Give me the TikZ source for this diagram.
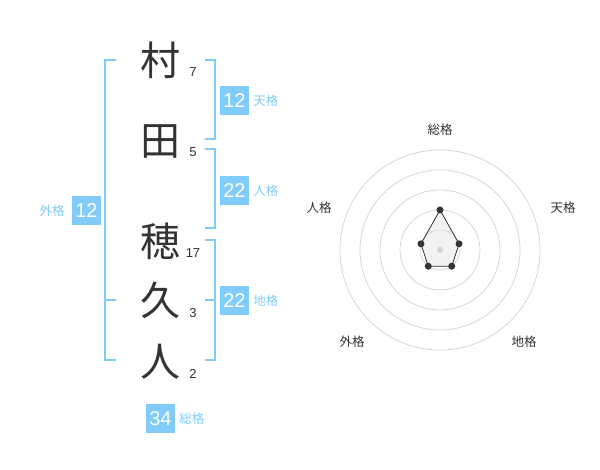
\documentclass[tikz,border=0pt]{standalone}
\usepackage{fontspec}
\setmainfont{Liberation Sans}
\newfontfamily\jpfont{Noto Sans CJK JP}
\usepackage{xcolor}
\usetikzlibrary{positioning}
\definecolor{kakublue}{RGB}{129, 204, 250}
\definecolor{inkgray}{RGB}{51, 51, 51}
\definecolor{ringgray}{RGB}{210, 210, 210}

\begin{document}
\begin{tikzpicture}[
    x=1pt, y=1pt,
    kanji/.style={font=\jpfont\fontsize{40}{40}\selectfont, text=inkgray, inner sep=0pt},
    strokes/.style={font=\fontsize{13}{13}\selectfont, text=inkgray, inner sep=0pt},
    kakubox/.style={rectangle, fill=kakublue, minimum width=29pt, minimum height=29pt, inner sep=0pt, text=white, font=\fontsize{20}{20}\selectfont},
    kakulabel/.style={font=\jpfont\fontsize{12.5}{12.5}\selectfont, text=kakublue, inner sep=0pt},
    bracket/.style={draw=kakublue, line width=2pt},
    ring/.style={draw=ringgray, line width=0.7pt},
    axislabel/.style={font=\jpfont\fontsize{12.5}{12.5}\selectfont, text=inkgray, inner sep=0pt},
    web/.style={draw=inkgray, line width=0.8pt, fill=gray!20, fill opacity=0.5},
    dot/.style={circle, fill=inkgray, inner sep=0pt, minimum size=7pt}
]
\useasboundingbox (0,0) rectangle (600,470);

% Name
\node[kanji] (mura) at (160,410) {村};
\node[kanji] (ta) at (160,328) {田};
\node[kanji] (ho) at (160,229) {穂};
\node[kanji] (hisa) at (160,170) {久};
\node[kanji] (hito) at (160,108) {人};

% Stroke counts
\node[strokes] (muranum) at (193,398) {7};
\node[strokes] (tanum) at (193,318) {5};
\node[strokes] (honum) at (193,217) {17};
\node[strokes] (hisanum) at (193,157) {3};
\node[strokes] (hitonum) at (193,96) {2};

% Brackets
\draw[bracket] (116,410) -- (105,410) -- (105,110) -- (116,110);
\draw[bracket] (105,170) -- (116,170);
\draw[bracket] (205,410) -- (215,410) -- (215,331) -- (205,331);
\draw[bracket] (205,321) -- (215,321) -- (215,242) -- (205,242);
\draw[bracket] (205,230) -- (215,230) -- (215,110) -- (205,110);
\draw[bracket] (205,170) -- (215,170);

% Fortune boxes
\node[kakubox] (tenbox) at (234.5,369.5) {12};
\node[kakulabel, right=4pt of tenbox] (tenlabel) {天格};
\node[kakubox] (jinbox) at (234.5,279.5) {22};
\node[kakulabel, right=4pt of jinbox] (jinlabel) {人格};
\node[kakubox] (chibox) at (234.5,169.5) {22};
\node[kakulabel, right=4pt of chibox] (chilabel) {地格};
\node[kakubox] (gaibox) at (86.5,259.5) {12};
\node[kakulabel, left=7pt of gaibox] (gailabel) {外格};
\node[kakubox] (sobox) at (160.5,51) {34};
\node[kakulabel, right=4pt of sobox] (solabel) {総格};

% Radar
\coordinate (hub) at (440,220);
\foreach \r in {20,40,...,100}
    \draw[ring] (hub) circle (\r);

\coordinate (sopt) at ([shift={(90:40)}]hub);
\coordinate (tenpt) at ([shift={(18:20)}]hub);
\coordinate (chipt) at ([shift={(-54:20)}]hub);
\coordinate (gaipt) at ([shift={(-126:20)}]hub);
\coordinate (jinpt) at ([shift={(162:20)}]hub);
\filldraw[web] (sopt) -- (tenpt) -- (chipt) -- (gaipt) -- (jinpt) -- cycle;

\node[circle, fill=ringgray, inner sep=0pt, minimum size=6pt] (hubdot) at (hub) {};
\node[dot] (sodot) at (sopt) {};
\node[dot] (tendot) at (tenpt) {};
\node[dot] (chidot) at (chipt) {};
\node[dot] (gaidot) at (gaipt) {};
\node[dot] (jindot) at (jinpt) {};

\node[axislabel] (soaxis) at (440,340) {総格};
\node[axislabel] (tenaxis) at (563,262) {天格};
\node[axislabel] (jinaxis) at (319,262) {人格};
\node[axislabel] (chiaxis) at (524,128) {地格};
\node[axislabel] (gaiaxis) at (352,128) {外格};

\end{tikzpicture}
\end{document}
